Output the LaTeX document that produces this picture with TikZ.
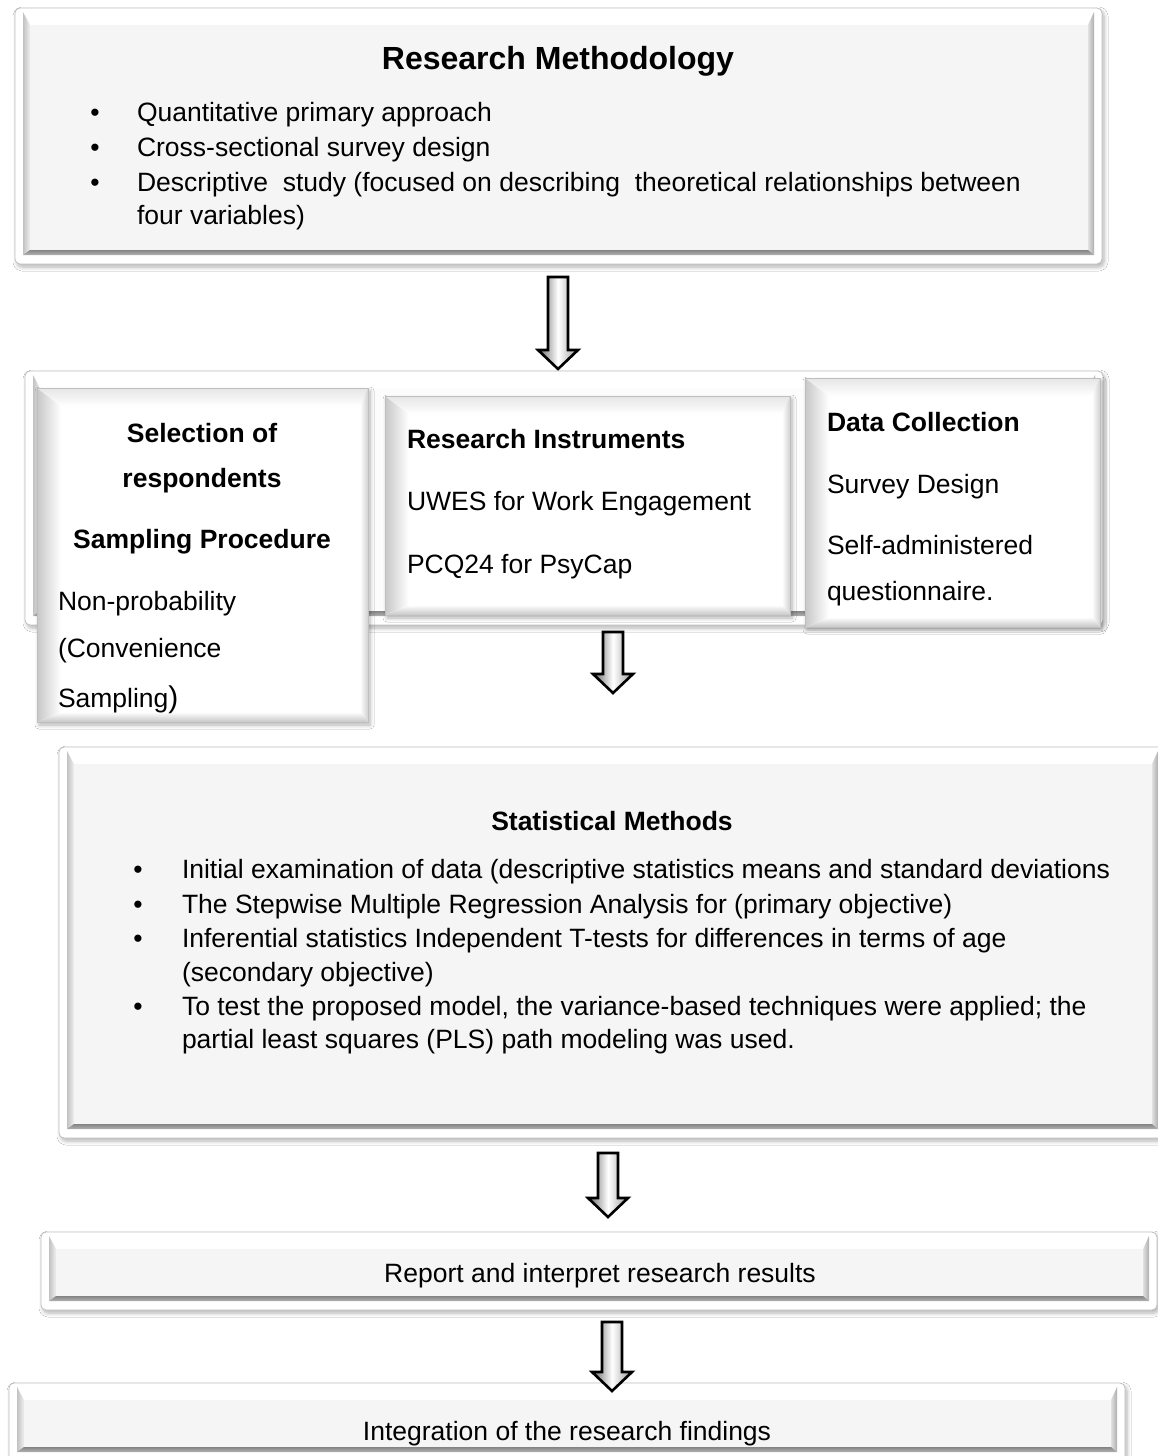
\documentclass[tikz,border=0pt]{standalone}
\usepackage{fontspec}
\setmainfont{Liberation Sans}
\usetikzlibrary{calc,shadows.blur}

\newcommand\bodysize{\fontsize{26.5}{32}\selectfont}
\newcommand\titlesize{\fontsize{32}{38}\selectfont}

\tikzset{
  facecol/.store in=\facecol, facecol=black!4,
  boxshadow/.style={blur shadow={shadow xshift=2pt, shadow yshift=-3pt,
      shadow opacity=30, shadow blur steps=6, shadow blur radius=4pt}},
  % raised panel: rounded frame, bevelled border, light grey face
  panel/.style={
    draw=black!25, line width=0.8pt, rounded corners=5pt, fill=white,
    inner sep=0pt, outer sep=0pt, anchor=north west, boxshadow,
    path picture={
      \begin{scope}[sharp corners]
      \coordinate (bA) at ([xshift=8pt,yshift=-4pt]path picture bounding box.north west);
      \coordinate (bB) at ([xshift=-8pt,yshift=9pt]path picture bounding box.south east);
      \coordinate (fA) at ([xshift=7pt,yshift=-13pt]bA);
      \coordinate (fB) at ([xshift=-6pt,yshift=5pt]bB);
      \shade[left color=black!24, right color=black!6]
        (bA) -- (fA) -- (fA |- fB) -- (bA |- bB) -- cycle;
      \shade[left color=black!12, right color=black!32]
        (bB) -- (fB) -- (fB |- fA) -- (bB |- bA) -- cycle;
      \shade[top color=black!48, bottom color=black!30]
        (bA |- bB) -- (fA |- fB) -- (fB) -- (bB) -- cycle;
      \fill[\facecol] (fA) rectangle (fB);
      \end{scope}
    }},
  % soft bevelled card: white face with shaded edges
  softbox/.style={
    draw=black!25, line width=0.8pt, fill=white,
    inner sep=0pt, outer sep=0pt, anchor=north west, boxshadow,
    path picture={
      \begin{scope}[sharp corners]
      \coordinate (sA) at (path picture bounding box.north west);
      \coordinate (sB) at (path picture bounding box.south east);
      \coordinate (gA) at ([xshift=24pt,yshift=-18pt]sA);
      \coordinate (gB) at ([xshift=-8pt,yshift=10pt]sB);
      \shade[left color=black!22, right color=white]
        (sA) -- (gA) -- (gA |- gB) -- (sA |- sB) -- cycle;
      \shade[top color=black!10, bottom color=white]
        (sA) -- (gA) -- (gB |- gA) -- (sB |- sA) -- cycle;
      \shade[left color=white, right color=black!18]
        (sB) -- (gB) -- (gB |- gA) -- (sB |- sA) -- cycle;
      \shade[top color=white, bottom color=black!22]
        (sA |- sB) -- (gA |- gB) -- (gB) -- (sB) -- cycle;
      \end{scope}
    }},
  blockarrow/.style={draw=black, line width=2.6pt, line join=miter,
    left color=black!60, right color=black!40, middle color=white},
  txt/.style={inner sep=0pt, outer sep=0pt, font=\bodysize, anchor=base west},
  ctxt/.style={inner sep=0pt, outer sep=0pt, font=\bodysize, anchor=base},
  hdr/.style={inner sep=0pt, outer sep=0pt, font=\bodysize\bfseries, anchor=base west},
  chdr/.style={inner sep=0pt, outer sep=0pt, font=\bodysize\bfseries, anchor=base},
  bul/.style={inner sep=0pt, outer sep=0pt, font=\bodysize, anchor=base},
}

% hollow shaded block arrow from #1 (tail) to #2 (tip), pointing down
\newcommand\blockarrow[2]{%
  \draw[blockarrow] ($(#1)+(-10,0)$) -- ($(#2)+(-10,-19)$) -- ($(#2)+(-20,-19)$)
    -- (#2) -- ($(#2)+(20,-19)$) -- ($(#2)+(10,-19)$) -- ($(#1)+(10,0)$) -- cycle;}

\begin{document}
\begin{tikzpicture}[x=1pt,y=-1pt]
\useasboundingbox (0,0) rectangle (1158,1456);
\clip (0,0) rectangle (1158,1456);
\fill[white] (0,0) rectangle (1158,1456);

% ---- Research methodology ----
\node[panel, minimum width=1087pt, minimum height=256pt] (rm) at (15,8) {};
\node[inner sep=0pt, font=\titlesize\bfseries, anchor=base] (rmt) at (558,69) {Research Methodology};
\node[bul] (rmb1) at (95,121) {\textbullet};
\node[bul] (rmb2) at (95,156) {\textbullet};
\node[bul] (rmb3) at (95,191) {\textbullet};
\node[txt] (rm1) at (137,121) {Quantitative primary approach};
\node[txt] (rm2) at (137,156) {Cross-sectional survey design};
\node[txt] (rm3) at (137,191) {Descriptive~ study (focused on describing~ theoretical relationships between};
\node[txt] (rm4) at (137,224) {four variables)};

\coordinate (a1s) at (558,277);
\coordinate (a1e) at (558,369);
\blockarrow{a1s}{a1e}

% ---- Sampling, instruments, data collection ----
\node[panel, facecol=black!1, minimum width=1078pt, minimum height=254pt] (row) at (25,371) {};
\node[softbox, minimum width=331pt, minimum height=334pt] (sel) at (37,388) {};
\node[softbox, minimum width=405pt, minimum height=219pt] (ins) at (385,396) {};
\node[softbox, minimum width=295pt, minimum height=249pt] (dc) at (805,378) {};

\node[chdr] (sel1) at (202,442) {Selection of};
\node[chdr] (sel2) at (202,487) {respondents};
\node[chdr] (sel3) at (202,548) {Sampling Procedure};
\node[txt] (sel4) at (58,610) {Non-probability};
\node[txt] (sel5) at (58,657) {(Convenience};
\node[txt] (sel6) at (58,707) {Sampling{\fontsize{30}{30}\selectfont)}};

\node[hdr] (ins1) at (407,448) {Research Instruments};
\node[txt] (ins2) at (407,510) {UWES for Work Engagement};
\node[txt] (ins3) at (407,573) {PCQ24 for PsyCap};

\node[hdr] (dc1) at (827,431) {Data Collection};
\node[txt] (dc2) at (827,493) {Survey Design};
\node[txt] (dc3) at (827,554) {Self-administered};
\node[txt] (dc4) at (827,600) {questionnaire.};

\coordinate (a2s) at (613,632);
\coordinate (a2e) at (613,693);
\blockarrow{a2s}{a2e}

% ---- Statistical methods ----
\node[panel, minimum width=1107pt, minimum height=391pt] (sm) at (59,747) {};
\node[chdr] (smt) at (612,830) {Statistical Methods};
\node[bul] (smb1) at (138,878) {\textbullet};
\node[bul] (smb2) at (138,913) {\textbullet};
\node[bul] (smb3) at (138,947) {\textbullet};
\node[bul] (smb4) at (138,1015) {\textbullet};
\node[txt] (sm1) at (182,878) {Initial examination of data (descriptive statistics means and standard deviations};
\node[txt] (sm2) at (182,913) {The Stepwise Multiple Regression Analysis for (primary objective)};
\node[txt] (sm3) at (182,947) {Inferential statistics Independent T-tests for differences in terms of age};
\node[txt] (sm4) at (182,981) {(secondary objective)};
\node[txt] (sm5) at (182,1015) {To test the proposed model, the variance-based techniques were applied; the};
\node[txt] (sm6) at (182,1048) {partial least squares (PLS) path modeling was used.};

\coordinate (a3s) at (608,1153);
\coordinate (a3e) at (608,1217);
\blockarrow{a3s}{a3e}

% ---- Report ----
\node[panel, minimum width=1116pt, minimum height=78pt] (rep) at (41,1232) {};
\node[ctxt] (rept) at (600,1282) {Report and interpret research results};

% ---- Integration ----
\node[panel, minimum width=1116pt, minimum height=78pt] (int) at (9,1383) {};
\node[ctxt] (intt) at (567,1440) {Integration of the research findings};

\coordinate (a4s) at (612,1322);
\coordinate (a4e) at (612,1391);
\blockarrow{a4s}{a4e}
\end{tikzpicture}
\end{document}
